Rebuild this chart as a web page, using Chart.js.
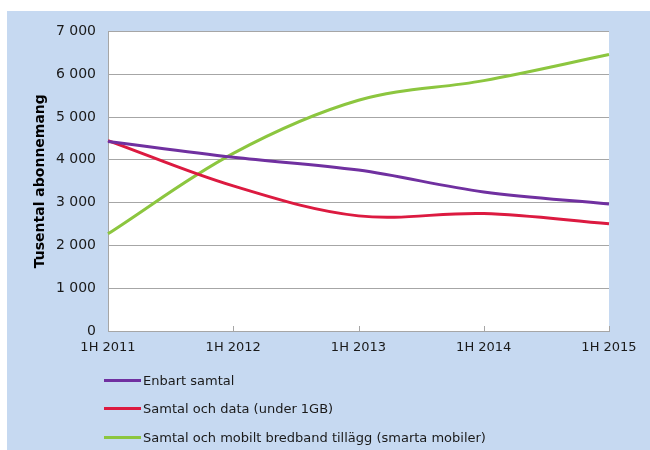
<!DOCTYPE html>
<html>
<head>
<meta charset="utf-8">
<script src="https://cdn.jsdelivr.net/npm/chart.js@4/dist/chart.umd.min.js"></script>
<style>
    body { margin: 0; background: #fff; font-family: "DejaVu Sans", Verdana, sans-serif; }
    .panel { position: absolute; left: 7px; top: 11px; width: 643px; height: 439px; background: #c6d9f1; }
    .chart-box { position: absolute; left: 0; top: 0; width: 643px; height: 360px; }
    #legend { position: absolute; left: 97px; top: 355px; font-size: 13px; color: #1a1a1a; }
    #legend .item { height: 28.5px; display: flex; align-items: center; }
    #legend .swatch { width: 37px; height: 3px; margin-right: 2px; }
</style>
</head>
<body>
<div class="panel">
    <div class="chart-box"><canvas id="lineChart" width="643" height="360"></canvas></div>
    <div id="legend"></div>
</div>
<script>
const periods = ['1H 2011', '1H 2012', '1H 2013', '1H 2014', '1H 2015'];
const seriesNames = [
    'Enbart samtal',
    'Samtal och data (under 1GB)',
    'Samtal och mobilt bredband tillägg (smarta mobiler)'
];
const enbartSamtal = [4430, 4060, 3760, 3250, 2970];
const samtalData = [4450, 3390, 2690, 2745, 2505];
const samtalBredband = [2270, 4150, 5390, 5850, 6460];
const seriesColors = ['#7030a0', '#dc1a40', '#8cc63f'];

const fmt = v => String(v).replace(/\B(?=(\d{3})+(?!\d))/g, ' ');

// white plot area on the blue panel
const plotBg = {
    id: 'plotBg',
    beforeDraw(chart) {
        const { ctx, chartArea: a } = chart;
        ctx.save();
        ctx.fillStyle = '#ffffff';
        ctx.fillRect(a.left, a.top, a.right - a.left, a.bottom - a.top);
        ctx.restore();
    }
};

// small tick marks pointing up into the plot, Excel style
const innerTicks = {
    id: 'innerTicks',
    afterDraw(chart) {
        const { ctx, chartArea: a } = chart;
        const xs = chart.scales.x;
        ctx.save();
        ctx.strokeStyle = '#a6a6a6';
        ctx.lineWidth = 1;
        ctx.beginPath();
        for (let i = 1; i < xs.ticks.length; i++) {
            const x = Math.round(xs.getPixelForTick(i)) + 0.5;
            ctx.moveTo(x, a.bottom);
            ctx.lineTo(x, a.bottom - 5);
        }
        ctx.stroke();
        ctx.restore();
    }
};

const allValues = [enbartSamtal, samtalData, samtalBredband];
const chart = new Chart(document.getElementById('lineChart'), {
    type: 'line',
    data: {
        labels: periods,
        datasets: allValues.map((vals, i) => ({
            label: seriesNames[i],
            data: vals,
            borderColor: seriesColors[i],
            backgroundColor: seriesColors[i],
            borderWidth: 3,
            pointRadius: 0,
            tension: 0.35,
            fill: false
        }))
    },
    options: {
        responsive: false,
        animation: false,
        layout: { padding: { top: 18, right: 41, bottom: 0, left: 0 } },
        scales: {
            x: {
                offset: false,
                afterFit: s => { s.height = 40; },
                grid: { display: false, drawTicks: false },
                border: { color: '#a6a6a6', width: 1 },
                ticks: { color: '#1a1a1a', font: { family: 'DejaVu Sans', size: 13 }, padding: 9, maxRotation: 0 }
            },
            y: {
                min: 0,
                max: 7000,
                afterFit: s => { s.width = 101; },
                grid: { color: '#a6a6a6', drawTicks: false },
                border: { color: '#a6a6a6', width: 1 },
                ticks: {
                    stepSize: 1000,
                    color: '#1a1a1a',
                    font: { family: 'DejaVu Sans', size: 14 },
                    padding: 12,
                    callback: v => fmt(v)
                },
                title: {
                    display: true,
                    text: 'Tusental abonnemang',
                    color: '#000',
                    font: { family: 'DejaVu Sans', size: 14, weight: 'bold' },
                    padding: { top: 25, bottom: 0 }
                }
            }
        },
        plugins: {
            legend: { display: false },
            tooltip: { enabled: false }
        }
    },
    plugins: [plotBg, innerTicks]
});

// legend stacked under the chart, like the original
const legendEl = document.getElementById('legend');
chart.data.datasets.forEach(ds => {
    const row = document.createElement('div');
    row.className = 'item';
    const sw = document.createElement('span');
    sw.className = 'swatch';
    sw.style.background = ds.borderColor;
    const txt = document.createElement('span');
    txt.textContent = ds.label;
    row.appendChild(sw);
    row.appendChild(txt);
    legendEl.appendChild(row);
});
</script>
</body>
</html>
